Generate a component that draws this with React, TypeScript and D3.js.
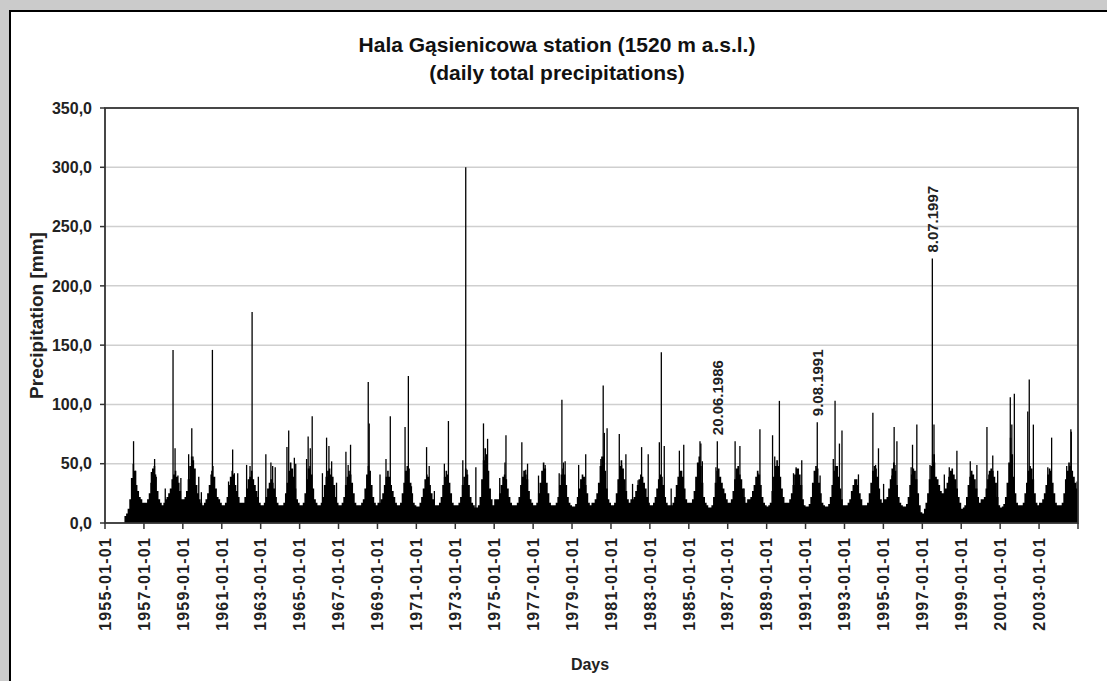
import * as d3 from "d3";

// monthly level of the dense part of the record (mm), Jan..Dec, from 1956
const firstYear = 1956;
const monthlyBody: number[][] = [
  [6, 8, 12, 20, 38, 50, 44, 32, 27, 22, 20, 17], // 1956
  [17, 17, 20, 25, 34, 46, 48, 39, 27, 20, 17, 15],
  [17, 20, 22, 25, 29, 37, 41, 44, 39, 34, 27, 20],
  [20, 22, 27, 37, 48, 56, 53, 46, 32, 25, 20, 17],
  [15, 17, 20, 25, 32, 41, 48, 39, 29, 22, 20, 17], // 1960
  [15, 15, 17, 22, 32, 39, 44, 41, 32, 27, 22, 17],
  [17, 17, 22, 29, 37, 39, 44, 37, 32, 27, 22, 17],
  [15, 15, 17, 22, 29, 34, 37, 34, 29, 22, 17, 15],
  [15, 15, 17, 25, 34, 44, 51, 46, 39, 29, 20, 17],
  [15, 15, 17, 25, 37, 46, 48, 41, 29, 20, 17, 15], // 1965
  [15, 17, 22, 32, 39, 44, 46, 41, 39, 32, 22, 17],
  [15, 15, 17, 22, 32, 39, 44, 41, 34, 25, 17, 15],
  [15, 15, 17, 20, 29, 41, 48, 44, 32, 22, 17, 15],
  [17, 17, 20, 25, 32, 39, 44, 39, 32, 27, 22, 17],
  [15, 15, 17, 25, 34, 44, 48, 46, 34, 25, 17, 15], // 1970
  [14, 14, 17, 22, 29, 37, 41, 39, 32, 25, 20, 15],
  [15, 15, 17, 22, 32, 39, 44, 41, 34, 25, 17, 15],
  [15, 15, 17, 22, 32, 39, 46, 41, 32, 22, 17, 15],
  [13, 13, 15, 22, 37, 53, 63, 58, 44, 29, 20, 15],
  [20, 20, 20, 25, 32, 39, 41, 37, 29, 22, 17, 15], // 1975
  [15, 15, 17, 22, 32, 39, 44, 41, 37, 27, 20, 17],
  [15, 15, 17, 25, 34, 44, 51, 46, 34, 25, 17, 15],
  [15, 15, 17, 22, 32, 41, 46, 41, 32, 22, 17, 15],
  [14, 14, 16, 22, 29, 37, 41, 39, 32, 25, 17, 15],
  [17, 17, 20, 25, 34, 48, 56, 56, 44, 29, 20, 17], // 1980
  [15, 15, 17, 25, 37, 48, 53, 46, 37, 27, 20, 17],
  [20, 20, 22, 27, 32, 37, 41, 39, 34, 29, 22, 17],
  [15, 15, 17, 22, 29, 37, 41, 39, 32, 22, 17, 15],
  [15, 15, 17, 22, 32, 39, 44, 44, 39, 29, 20, 17],
  [17, 17, 20, 27, 39, 51, 56, 48, 34, 22, 17, 15], // 1985
  [13, 13, 15, 22, 34, 44, 46, 39, 34, 29, 25, 20],
  [17, 17, 20, 27, 37, 46, 48, 41, 37, 29, 22, 17],
  [20, 20, 22, 27, 32, 39, 44, 41, 32, 22, 17, 15],
  [14, 15, 17, 27, 39, 48, 53, 48, 39, 29, 22, 17],
  [17, 17, 20, 25, 32, 41, 46, 46, 41, 32, 20, 15], // 1990
  [14, 14, 16, 22, 34, 44, 48, 46, 34, 25, 17, 15],
  [14, 14, 16, 22, 32, 44, 48, 48, 39, 29, 20, 15],
  [15, 15, 17, 20, 27, 32, 37, 37, 32, 25, 20, 15],
  [15, 15, 17, 25, 34, 44, 48, 46, 39, 29, 20, 17],
  [20, 20, 22, 29, 37, 46, 51, 44, 32, 22, 17, 15], // 1995
  [14, 14, 16, 22, 32, 41, 46, 44, 37, 25, 15, 9],
  [8, 12, 17, 25, 37, 48, 58, 51, 39, 37, 32, 27],
  [25, 25, 29, 34, 39, 44, 46, 41, 37, 29, 22, 17],
  [12, 13, 15, 22, 32, 39, 44, 41, 37, 29, 22, 17],
  [20, 20, 22, 29, 37, 44, 46, 44, 39, 34, 22, 15], // 2000
  [13, 14, 16, 22, 34, 51, 72, 58, 39, 25, 17, 15],
  [15, 15, 17, 25, 34, 44, 48, 46, 37, 25, 17, 15],
  [17, 17, 20, 25, 32, 41, 46, 44, 34, 25, 17, 15],
  [15, 15, 17, 25, 37, 44, 51, 48, 44, 39, 34, 29], // 2004
];

// single wet days standing above the dense part (date, mm)
const spikes: [string, number][] = [
  ["1956-06-20", 69], ["1956-07-30", 44],
  ["1957-05-20", 43], ["1957-07-20", 54], ["1957-08-08", 41],
  ["1958-02-05", 29], ["1958-07-01", 146], ["1958-08-08", 63], ["1958-10-01", 40], ["1958-11-25", 38],
  ["1959-04-20", 58], ["1959-06-18", 80], ["1959-07-10", 56], ["1959-10-27", 39], ["1959-12-15", 26],
  ["1960-06-28", 44], ["1960-07-09", 146],
  ["1961-05-08", 35], ["1961-07-24", 62], ["1961-08-25", 42], ["1961-10-27", 42],
  ["1962-04-12", 49], ["1962-06-15", 48], ["1962-07-24", 178], ["1962-11-18", 39],
  ["1963-04-08", 58], ["1963-07-12", 51], ["1963-08-14", 48], ["1963-10-01", 47],
  ["1964-05-08", 64], ["1964-06-10", 78], ["1964-09-24", 55], ["1964-10-20", 50],
  ["1965-05-12", 54], ["1965-06-10", 73], ["1965-07-20", 63], ["1965-08-25", 90],
  ["1966-03-05", 42], ["1966-05-22", 72], ["1966-07-05", 65], ["1966-08-25", 52], ["1966-11-25", 34],
  ["1967-05-20", 60], ["1967-07-01", 49], ["1967-08-15", 66],
  ["1968-07-12", 119], ["1968-07-30", 84],
  ["1969-02-18", 41], ["1969-06-10", 54], ["1969-08-30", 90],
  ["1970-06-03", 81], ["1970-08-04", 124], ["1970-10-01", 31],
  ["1971-07-12", 64], ["1971-08-30", 48], ["1971-12-05", 27],
  ["1972-06-10", 50], ["1972-08-25", 86],
  ["1973-05-22", 53], ["1973-07-16", 300], ["1973-08-10", 45],
  ["1974-01-22", 47], ["1974-06-14", 84], ["1974-07-20", 56], ["1974-08-30", 71],
  ["1975-04-15", 38], ["1975-07-22", 51], ["1975-08-10", 74],
  ["1976-06-03", 68], ["1976-07-20", 44], ["1976-08-15", 45], ["1976-09-18", 50],
  ["1977-04-12", 40], ["1977-07-01", 43], ["1977-08-15", 49],
  ["1978-05-05", 42], ["1978-06-25", 104], ["1978-07-24", 51], ["1978-08-25", 52],
  ["1979-05-05", 49], ["1979-09-15", 58],
  ["1980-06-25", 54], ["1980-08-08", 116], ["1980-08-30", 76], ["1980-10-20", 80],
  ["1981-06-06", 75], ["1981-07-20", 49], ["1981-10-08", 58],
  ["1982-02-10", 33], ["1982-05-25", 36], ["1982-07-30", 64], ["1982-12-01", 58],
  ["1983-06-28", 68], ["1983-08-04", 144], ["1983-09-28", 65],
  ["1984-02-05", 29], ["1984-07-08", 61], ["1984-09-28", 66],
  ["1985-05-25", 36], ["1985-07-30", 69], ["1985-08-15", 67], ["1985-09-12", 52],
  ["1986-05-25", 47], ["1986-06-20", 69], ["1986-08-15", 30],
  ["1987-05-20", 69], ["1987-07-01", 44], ["1987-08-18", 65], ["1987-11-05", 29],
  ["1988-07-20", 42], ["1988-08-28", 79],
  ["1989-04-22", 74], ["1989-06-02", 56], ["1989-08-28", 103],
  ["1990-05-20", 42], ["1990-07-08", 47], ["1990-10-22", 53],
  ["1991-08-09", 85], ["1991-10-01", 40],
  ["1992-06-05", 54], ["1992-07-08", 103], ["1992-09-28", 67], ["1992-11-15", 78],
  ["1993-07-20", 27], ["1993-09-20", 41],
  ["1994-06-18", 93], ["1994-08-08", 49], ["1994-10-01", 63],
  ["1995-01-05", 33], ["1995-06-10", 40], ["1995-07-22", 81], ["1995-08-08", 49], ["1995-09-12", 69],
  ["1996-06-05", 47], ["1996-07-01", 66], ["1996-09-20", 83],
  ["1997-05-25", 49], ["1997-07-08", 223], ["1997-08-08", 83], ["1997-08-15", 58],
  ["1998-02-18", 41], ["1998-05-22", 47], ["1998-10-12", 61],
  ["1999-06-20", 52], ["1999-10-22", 49],
  ["2000-04-28", 81], ["2000-06-02", 41], ["2000-08-15", 57], ["2000-11-15", 44],
  ["2001-07-10", 106], ["2001-08-08", 83], ["2001-09-24", 109],
  ["2002-06-03", 94], ["2002-07-01", 121], ["2002-09-16", 83],
  ["2003-06-14", 47], ["2003-08-25", 72],
  ["2004-06-03", 48], ["2004-08-20", 79], ["2004-08-28", 77], ["2004-12-15", 35],
];

const annotations: [string, string][] = [
  ["1986-06-20", "20.06.1986"],
  ["1991-08-09", "9.08.1991"],
  ["1997-07-08", "8.07.1997"],
];

const yTicks = [0, 50, 100, 150, 200, 250, 300, 350];
const xTickYears = [
  1955, 1957, 1959, 1961, 1963, 1965, 1967, 1969, 1971, 1973, 1975, 1977, 1979,
  1981, 1983, 1985, 1987, 1989, 1991, 1993, 1995, 1997, 1999, 2001, 2003, 2005,
];

const W = 1107;
const H = 681;
const margin = { top: 108, right: 29, bottom: 158, left: 105 };
const font = "'Liberation Sans', Arial, sans-serif";

export default function App() {
  const parse = d3.timeParse("%Y-%m-%d");
  const fmt = d3.timeFormat("%Y-%m-%d");

  const x = d3
    .scaleTime()
    .domain([new Date(1955, 0, 1), new Date(2005, 0, 1)])
    .range([margin.left, W - margin.right]);
  const y = d3.scaleLinear().domain([0, 350]).range([H - margin.bottom, margin.top]);

  const innerL = margin.left;
  const innerR = W - margin.right;
  const y0 = y(0);

  // one point per month start, plus a closing point, drawn as a step area
  const bodyPts = monthlyBody.flatMap((months, yi) =>
    months.map((v, m) => ({ d: new Date(firstYear + yi, m, 1), v }))
  );
  const last = bodyPts[bodyPts.length - 1];
  bodyPts.push({ d: new Date(firstYear + monthlyBody.length, 0, 1), v: last.v });

  const bodyArea = d3
    .area<{ d: Date; v: number }>()
    .x((p) => x(p.d))
    .y0(y0)
    .y1((p) => y(p.v))
    .curve(d3.curveStepAfter);

  const spikeMap = new Map(spikes.map(([d, v]) => [d, v]));

  return (
    <svg
      width={W}
      height={H}
      style={{ position: "absolute", left: 0, top: 0, fontFamily: font }}
    >
      <rect x={0} y={0} width={W} height={H} fill="#cbcbcb" />
      <rect x={10} y={11} width={W + 20} height={H + 20} fill="#fff" stroke="#000" strokeWidth={2} />

      {/* title */}
      <text x={557} y={52} textAnchor="middle" fontSize={21} fontWeight="bold" fill="#111">
        Hala Gąsienicowa station (1520 m a.s.l.)
      </text>
      <text x={557} y={80} textAnchor="middle" fontSize={21} fontWeight="bold" fill="#111">
        (daily total precipitations)
      </text>

      {/* grid */}
      {yTicks.slice(1, -1).map((t) => (
        <line key={t} x1={innerL} x2={innerR} y1={y(t)} y2={y(t)} stroke="#cfcfcf" strokeWidth={1.5} />
      ))}

      {/* dense part */}
      <path d={bodyArea(bodyPts) ?? ""} fill="#000" />

      {/* wet days */}
      {spikes.map(([d, v], i) => {
        const px = x(parse(d)!);
        return <line key={i} x1={px} x2={px} y1={y0} y2={y(v)} stroke="#000" strokeWidth={1.3} />;
      })}

      {/* plot frame */}
      <rect
        x={innerL}
        y={margin.top}
        width={innerR - innerL}
        height={y0 - margin.top}
        fill="none"
        stroke="#333"
        strokeWidth={1.8}
      />

      {/* y axis */}
      {yTicks.map((t) => (
        <g key={t}>
          <line x1={innerL - 5} x2={innerL} y1={y(t)} y2={y(t)} stroke="#333" strokeWidth={1.5} />
          <text
            x={innerL - 13}
            y={y(t)}
            dy="0.36em"
            textAnchor="end"
            fontSize={16}
            fontWeight="bold"
            fill="#222"
          >
            {t.toFixed(1).replace(".", ",")}
          </text>
        </g>
      ))}
      <text
        transform={`translate(36,${(margin.top + y0) / 2}) rotate(-90)`}
        textAnchor="middle"
        dy="0.36em"
        fontSize={19}
        fontWeight="bold"
        fill="#222"
      >
        Precipitation [mm]
      </text>

      {/* x axis */}
      {xTickYears.map((yr) => {
        const d = new Date(yr, 0, 1);
        const px = x(d);
        return (
          <g key={yr}>
            <line x1={px} x2={px} y1={y0} y2={y0 + 6} stroke="#333" strokeWidth={1.5} />
            {yr < 2005 && (
              <text
                transform={`translate(${px},${y0 + 14}) rotate(-90)`}
                textAnchor="end"
                dy="0.36em"
                fontSize={16}
                fontWeight="bold"
                letterSpacing={1.2}
                fill="#222"
              >
                {fmt(d)}
              </text>
            )}
          </g>
        );
      })}
      <text x={590} y={670} textAnchor="middle" fontSize={16} fontWeight="bold" fill="#222">
        Days
      </text>

      {/* annotated days */}
      {annotations.map(([d, label]) => {
        const px = x(parse(d)!);
        const v = spikeMap.get(d) ?? 0;
        return (
          <text
            key={d}
            transform={`translate(${px},${y(v) - 6}) rotate(-90)`}
            textAnchor="start"
            dy="0.36em"
            fontSize={15}
            fontWeight="bold"
            fill="#222"
          >
            {label}
          </text>
        );
      })}
    </svg>
  );
}
